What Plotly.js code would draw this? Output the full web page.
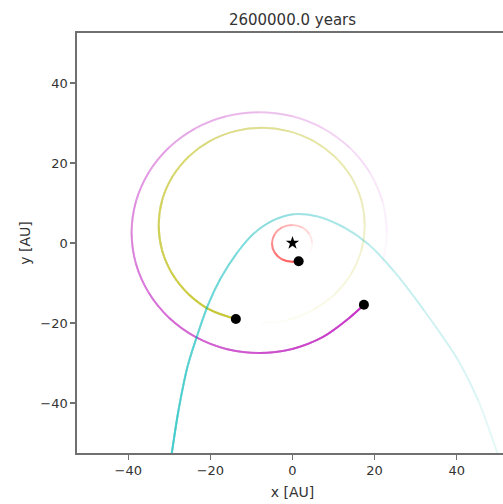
<!DOCTYPE html>
<html>
<head>
<meta charset="utf-8">
<script src="https://cdn.plot.ly/plotly-3.0.1.min.js"></script>
<style>
html,body{margin:0;padding:0;overflow:hidden;background:#fff;width:503px;height:504px;}
#chart{width:510px;height:504px;}
</style>
</head>
<body>
<div id="chart"></div>
<script>
// Trail points, oldest first, newest last (last point = current body position)
const redX = [4.14, 4.8, 4.14, 2.35, -0.1, -2.55, -4.34, -5.0, -4.34, -2.55, -0.1, 1.5];
const redY = [-2.4, -0.1, 2.2, 3.88, 4.5, 3.88, 2.2, -0.1, -2.4, -4.08, -4.7, -4.55];

const yellowX = [-7.5, -1.0, 5.05, 10.25, 14.24, 16.75, 17.6, 16.75, 14.24, 10.25, 5.05, -1.0, -7.5, -14.0, -20.05, -25.25, -29.24, -31.75, -32.6, -31.75, -29.24, -25.25, -20.05, -13.8];
const yellowY = [-20.0, -19.17, -16.73, -12.85, -7.8, -1.92, 4.4, 10.72, 16.6, 21.65, 25.53, 27.97, 28.8, 27.97, 25.53, 21.65, 16.6, 10.72, 4.4, -1.92, -7.8, -12.85, -16.73, -19.0];

const magentaX = [21.94, 23.0, 21.94, 18.83, 13.89, 7.45, -0.05, -8.1, -16.15, -23.65, -30.09, -35.03, -38.14, -39.2, -38.14, -35.03, -30.09, -23.65, -16.15, -8.1, -0.05, 7.45, 13.89, 17.4];
const magentaY = [-5.2, 2.6, 10.4, 17.65, 23.88, 28.67, 31.68, 32.7, 31.68, 28.67, 23.88, 17.65, 10.4, 2.6, -5.2, -12.45, -18.68, -23.47, -26.48, -27.5, -26.48, -23.47, -18.68, -15.45];

const cyanX = [51.5, 49.9, 45.2, 40.1, 32.0, 24.5, 18.5, 12.4, 5.9, 0.2, -4.6, -9.5, -13.6, -17.6, -20.5, -23.3, -25.6, -27.8, -29.4, -30.2];
const cyanY = [-57.0, -52.5, -39.3, -28.9, -16.8, -6.8, -0.3, 4.0, 6.7, 7.2, 5.7, 2.3, -2.6, -9.0, -15.3, -23.4, -31.0, -42.0, -52.5, -58.0];

const starX = [0];
const starY = [0];

const titleText = "2600000.0 years";
const xTicks = [-40, -20, 0, 20, 40];
const yTicks = [-40, -20, 0, 20, 40];

const series = [
  {x: redX, y: redY, rgb: [255, 0, 0], aMin: 0.03, aMax: 0.66, dot: true},
  {x: yellowX, y: yellowY, rgb: [191, 191, 0], aMin: 0.03, aMax: 0.78, dot: true},
  {x: magentaX, y: magentaY, rgb: [191, 0, 191], aMin: 0.03, aMax: 0.78, dot: true},
  {x: cyanX, y: cyanY, rgb: [0, 191, 191], aMin: 0.07, aMax: 0.75, dot: false}
];

// Fading trail: stacked smooth (spline) layers, each starting one point later,
// so the accumulated opacity grows linearly toward the newest point.
const traces = [];
series.forEach(s => {
  const n = s.x.length;
  const nSeg = n - 1;
  let prev = 0;
  for (let k = 0; k < nSeg; k++) {
    const target = s.aMin + (s.aMax - s.aMin) * (k / (nSeg - 1));
    const a = k === 0 ? target : (target - prev) / (1 - prev);
    prev = target;
    traces.push({
      type: 'scatter', mode: 'lines',
      x: s.x.slice(k), y: s.y.slice(k),
      line: {color: `rgba(${s.rgb[0]},${s.rgb[1]},${s.rgb[2]},${a.toFixed(4)})`, width: 2, shape: 'spline', smoothing: 1},
      hoverinfo: 'skip', showlegend: false
    });
  }
});
// current positions
const dotX = [], dotY = [];
series.forEach(s => { if (s.dot) { dotX.push(s.x[s.x.length - 1]); dotY.push(s.y[s.y.length - 1]); } });
traces.push({type: 'scatter', mode: 'markers', x: dotX, y: dotY,
  marker: {color: '#000', size: 10}, showlegend: false, hoverinfo: 'skip'});
traces.push({type: 'scatter', mode: 'markers', x: starX, y: starY,
  marker: {color: '#000', size: 10, symbol: 'star'}, showlegend: false, hoverinfo: 'skip'});

const axisCommon = {
  showgrid: false, zeroline: false, showline: true, mirror: true,
  linecolor: '#707070', linewidth: 1.6,
  ticks: 'outside', ticklen: 5, tickwidth: 1.2, tickcolor: '#707070',
  tickfont: {family: 'DejaVu Sans', size: 13, color: '#333'},
  tickmode: 'array'
};

const layout = {
  width: 510, height: 504,
  margin: {l: 77, r: 2, t: 33, b: 51},
  paper_bgcolor: '#fff', plot_bgcolor: '#fff',
  font: {family: 'DejaVu Sans', color: '#333'},
  title: {text: titleText, x: 0.5, xref: 'paper', y: 1 - 20 / 504, yref: 'container', yanchor: 'middle',
    font: {family: 'DejaVu Sans', size: 15, color: '#333'}},
  xaxis: Object.assign({}, axisCommon, {range: [-52.5, 52.5], tickvals: xTicks,
    title: {text: 'x [AU]', standoff: 10, font: {family: 'DejaVu Sans', size: 14, color: '#333'}}}),
  yaxis: Object.assign({}, axisCommon, {range: [-52.5, 52.5], tickvals: yTicks,
    title: {text: 'y [AU]', standoff: 6, font: {family: 'DejaVu Sans', size: 14, color: '#333'}}})
};

Plotly.newPlot('chart', traces, layout, {staticPlot: true, displayModeBar: false});
</script>
</body>
</html>
